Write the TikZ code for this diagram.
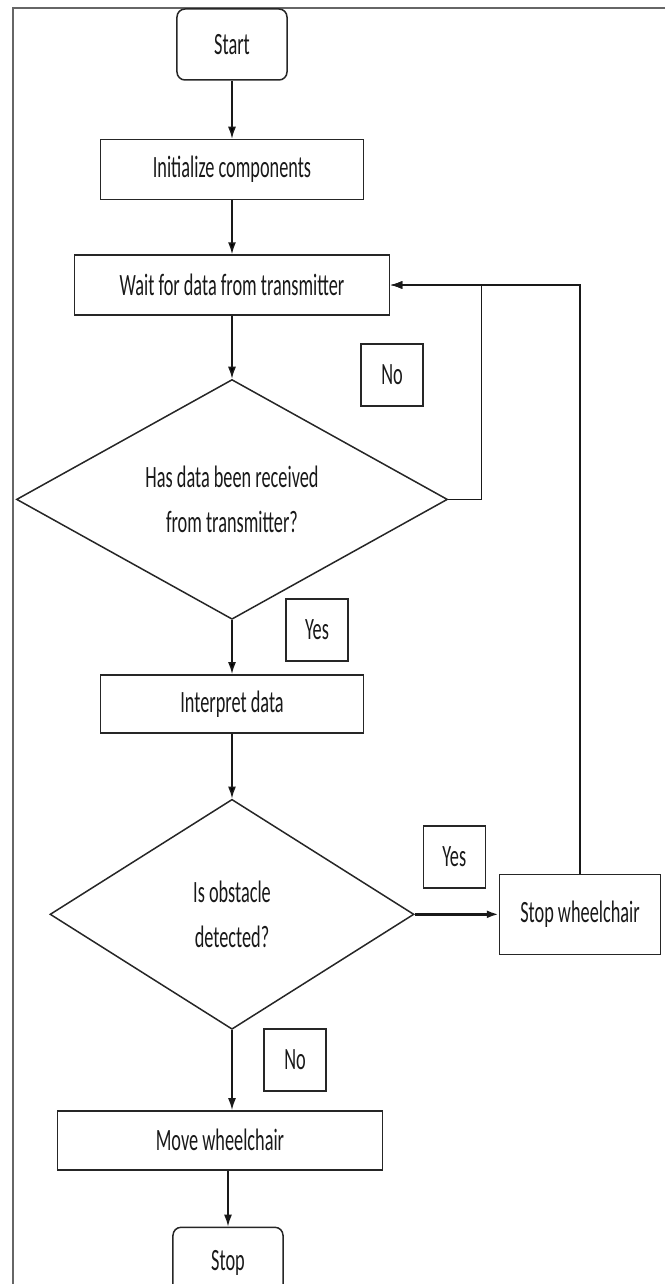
\documentclass[tikz,border=0pt]{standalone}
\usepackage{fontspec}
\setmainfont{Carlito}[FakeStretch=0.59]
\usetikzlibrary{positioning,calc,shapes.geometric,arrows.meta}

\tikzset{
  box/.style={draw=black!85, line width=1.5pt, text=black!90,
    minimum height=60pt, inner sep=0pt, align=center},
  term/.style={box, rounded corners=8pt, minimum width=110pt, minimum height=71pt},
  decision/.style={draw=black!85, line width=1.5pt, text=black!90,
    diamond, inner sep=0pt, align=center},
  lbl/.style={box, minimum width=62pt, minimum height=62pt},
  flow/.style={draw=black!90, line width=1.5pt, -{Latex[length=12pt,width=8pt]}}
}

\begin{document}
\begin{tikzpicture}[x=1pt, y=1pt, font=\fontsize{31}{45}\selectfont]
            \useasboundingbox (-232,44.5) rectangle (433,-1239.5);
            \draw[black!60, line width=1.5pt] (433,36.5) -- (-219,36.5) -- (-219,-1239.5);

            \node[term] (start) at (0,0) {Start};

            \node[box,
            below= 58pt of start,
            minimum width=263pt] (init) {Initialize components};

            \node[box,
            below= 54pt of init,
            minimum width=315pt] (wait) {Wait for data from transmitter};

            \node[decision,
            below= 63pt of wait,
            minimum width=431pt,
            minimum height=231pt] (received) {Has data been received\\from transmitter?};

            \node[box,
            below= 54pt of received,
            minimum width=263pt,
            minimum height=58pt] (interpret) {Interpret data};

            \node[decision,
            below= 65pt of interpret,
            minimum width=364pt,
            minimum height=230pt] (obstacle) {Is obstacle\\detected?};

            \node[box,
            right= 84pt of obstacle,
            minimum width=161pt,
            minimum height=80pt] (halt) {Stop wheelchair};

            \node[box,
            below= 80pt of obstacle, xshift=-12pt,
            minimum width=325pt,
            minimum height=59pt] (move) {Move wheelchair};

            \node[term, below= 56pt of move, xshift=8pt] (stop) {Stop};

            % yes / no labels
            \node[lbl] (noA) at ($(received.north)+(160,4)$) {No};
            \node[lbl] (yesA) at ($(received.south)+(85,-10)$) {Yes};
            \node[lbl] (yesB) at ($(obstacle.east)+(39.5,57.5)$) {Yes};
            \node[lbl] (noB) at ($(obstacle.south)+(63,-30)$) {No};

            \path[flow]
            (start) edge (init)
            (init) edge (wait)
            (wait) edge (received)
            (received) edge (interpret)
            (interpret) edge (obstacle);

            \draw[flow] (obstacle.south) -- (obstacle.south |- move.north);
            \draw[flow] (stop.north |- move.south) -- (stop.north);

            \draw[flow] (received.east) -- ++(33,0) |- (wait.east);
            \draw[flow] (halt.north) |- (wait.east);
            \draw[flow, line width=3pt] (obstacle.east) -- (halt.west);
          \end{tikzpicture}
\end{document}
